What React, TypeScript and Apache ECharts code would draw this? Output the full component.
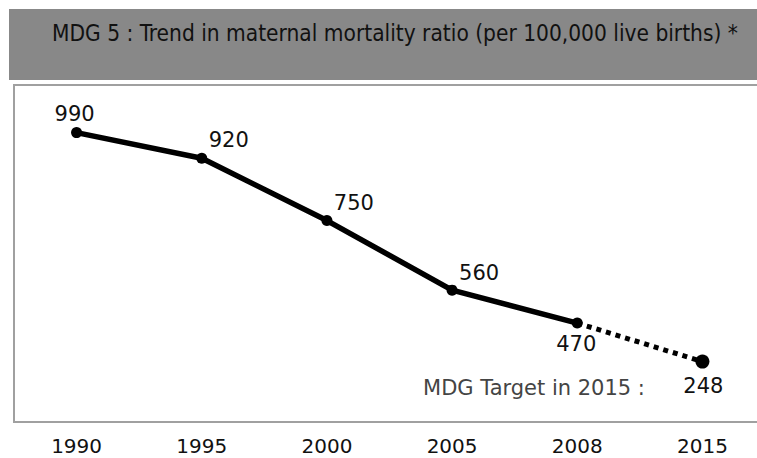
import React, { useEffect, useRef } from "react";
import * as echarts from "echarts";

const years = ["1990", "1995", "2000", "2005", "2008", "2015"];
const mmrActual = [990, 920, 750, 560, 470, null];
const mmrTarget = [null, null, null, null, 470, 248];
const titleText = "MDG 5 : Trend in maternal mortality ratio (per 100,000 live births) *";
const targetText = "MDG Target in 2015 :";

export default function App() {
  const ref = useRef<HTMLDivElement>(null);
  useEffect(() => {
    if (!ref.current) return;
    const chart = echarts.init(ref.current, null, { renderer: "svg" });
    const numFont = "'DejaVu Sans', Verdana, sans-serif";
    const actualOffsets = [[-2, -19], [27, -18], [27, -18], [27, -17], [-1, 21]];
    chart.setOption({
      animation: false,
      backgroundColor: "#ffffff",
      title: {
        text: titleText,
        left: 47,
        top: 16,
        textStyle: {
          fontFamily: "'DejaVu Sans Condensed', sans-serif",
          fontSize: 22.5,
          fontWeight: "normal",
          color: "#111111",
        },
      },
      graphic: [
        {
          type: "rect",
          z: -10,
          shape: { x: 9, y: 9, width: 760, height: 71 },
          style: { fill: "#888888" },
        },
        {
          type: "text",
          x: 534,
          y: 388,
          style: {
            text: targetText,
            fill: "#444444",
            font: "21px " + numFont,
            textAlign: "center",
            textVerticalAlign: "middle",
          },
        },
      ],
      grid: {
        left: 14,
        width: 751,
        top: 85,
        bottom: 36,
        outerBoundsMode: "none",
        show: true,
        borderColor: "#a0a0a0",
        borderWidth: 2,
        backgroundColor: "transparent",
      },
      xAxis: {
        type: "category",
        data: years,
        boundaryGap: true,
        axisLine: { show: false },
        axisTick: { show: false },
        axisLabel: { color: "#111111", fontSize: 20, fontFamily: numFont, margin: 14 },
      },
      yAxis: [
        { type: "value", min: 200, max: 1120, show: false, splitLine: { show: false } },
        { type: "value", min: -100, max: 1842, show: false, splitLine: { show: false } },
      ],
      series: [
        {
          type: "line",
          data: mmrActual.map((v, i) =>
            v == null ? null : { value: v, label: { offset: actualOffsets[i] } }
          ),
          yAxisIndex: 0,
          symbol: "circle",
          symbolSize: 11,
          itemStyle: { color: "#000000" },
          lineStyle: { color: "#000000", width: 5.5 },
          z: 3,
          label: {
            show: true,
            position: "inside",
            color: "#111111",
            fontSize: 21,
            fontFamily: numFont,
          },
        },
        {
          type: "line",
          yAxisIndex: 1,
          data: mmrTarget.map((v, i) =>
            v == null
              ? null
              : i === 4
              ? { value: v, symbol: "none", label: { show: false } }
              : { value: v }
          ),
          symbol: "circle",
          symbolSize: 14,
          itemStyle: { color: "#000000" },
          lineStyle: { color: "#000000", width: 5, type: [5, 5] },
          z: 2,
          label: {
            show: true,
            position: "inside",
            offset: [1, 24],
            color: "#111111",
            fontSize: 21,
            fontFamily: numFont,
          },
        },
      ],
    });
    return () => chart.dispose();
  }, []);
  return (
    <div
      ref={ref}
      style={{ position: "absolute", left: 0, top: 0, width: 757, height: 458 }}
    />
  );
}
